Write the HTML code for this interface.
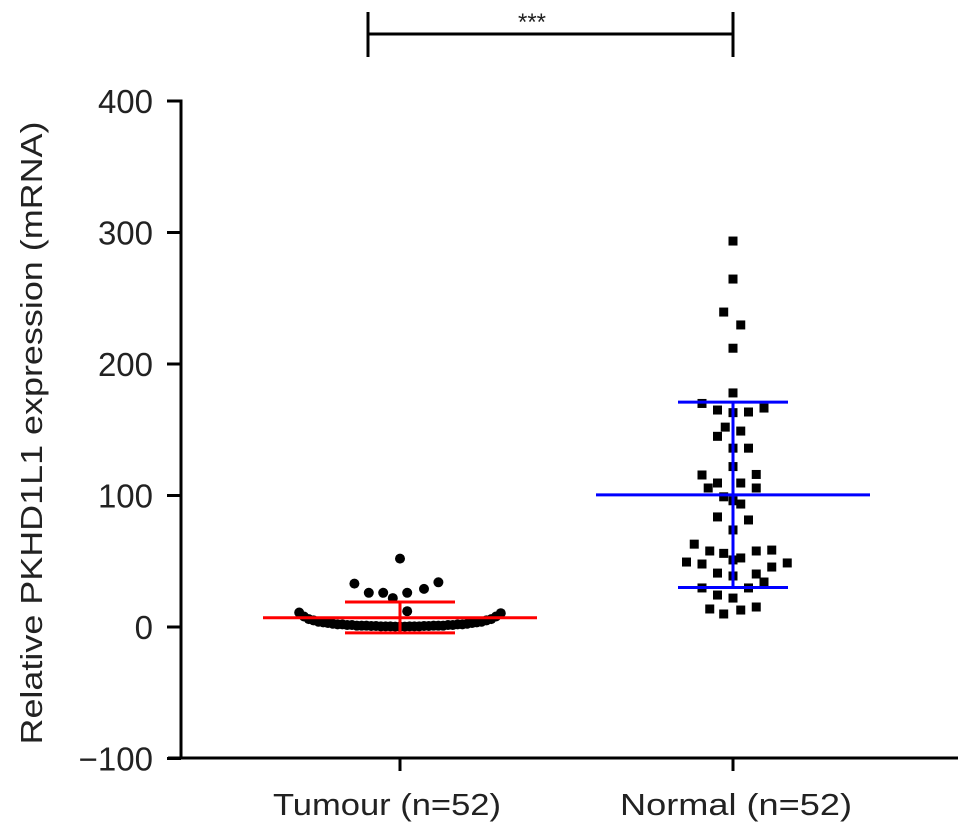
<!DOCTYPE html>
<html><head><meta charset="utf-8"><style>
html,body{margin:0;padding:0;background:#fff;}
svg{display:block;font-family:"Liberation Sans",sans-serif;}
</style></head><body>
<svg id="chart" width="969" height="837" viewBox="0 0 969 837">
<g id="axes"></g><g id="marks"></g>
</svg>
<script>
const yTicks = [-100, 0, 100, 200, 300, 400];
const categories = ["Tumour (n=52)", "Normal (n=52)"];
const tumourOutliers = [52, 33, 26, 26, 26, 29, 34, 22, 12];
const tumourOutlierSlot = [0, -9.5, -6.5, -3.5, 1.5, 5, 8, -1.5, 1.5];
const tumourBand = [11,8,6,5,4,3.5,3,2.5,2,2,1.5,1.5,1,1,1,0.8,0.8,0.5,0.5,0.5,0.3,0.3,0.3,0.5,0.5,0.5,0.8,0.8,1,1,1,1.5,1.5,2,2,2.5,3,3.5,4,5,6,8,10.5];
const normalValues = [293.5,264.6,239.5,229.7,212,178,170,165,163.5,166.5,163,152,149,145,136,136,122,115.6,116,109.5,105.7,109.5,105.7,99,93.5,83.7,81.4,73.8,63,57.8,56,57.8,58.5,49.4,47.9,52.5,45.6,48.7,41,38.8,40.3,34.2,29.7,29.7,24.3,22,13.7,9.9,12.9,15.2,96,51];
const normalSlot = [0,0,-0.6,0.5,0,0,-2,-1,1,2,0,-0.5,0.5,-1,0,1,0,-2,1.5,-1,-1.6,0.5,1.5,-0.6,0.5,-1,1,0,-2.5,-1.5,-0.6,1.5,2.5,-3,-2,0.5,2.5,3.5,-1,0,1.5,2,-2,1,-1,0,-1.5,-0.6,0.5,1.5,0,0];
const tumourStats = {mean: 7, upper: 19, lower: -4.5};
const normalStats = {mean: 100.5, upper: 171, lower: 30};

const NS = "http://www.w3.org/2000/svg";
const y = v => 627 - v * 1.315;
const xCat = i => [400, 733][i];
function el(tag, attrs, parent, text){
  const e = document.createElementNS(NS, tag);
  for (const k in attrs) e.setAttribute(k, attrs[k]);
  if (text !== undefined) e.textContent = text;
  parent.appendChild(e); return e;
}
const axes = document.getElementById('axes');
const marks = document.getElementById('marks');

let a = el('line',{x1:181,y1:y(400)-1.5,x2:181,y2:759,stroke:'#000','stroke-width':3},axes);
 
a = el('line',{x1:168,y1:758,x2:958,y2:758,stroke:'#000','stroke-width':3},axes);
 
yTicks.forEach(t=>{
  const tk = el('line',{x1:167,y1:y(t),x2:181,y2:y(t),stroke:'#000','stroke-width':3},axes);
   
  const s = (t<0?'\u2212'+(-t):String(t));
  const lb = el('text',{x:153,y:y(t)+12,'text-anchor':'end','font-size':33,fill:'#222'},axes,s);
   
});
categories.forEach((c,i)=>{
  const tk = el('line',{x1:xCat(i),y1:758,x2:xCat(i),y2:771,stroke:'#000','stroke-width':3},axes);
   
  const lb = el('text',{x:xCat(i)+(i===0?-13:3),y:815,'text-anchor':'middle','font-size':31,fill:'#222',textLength:(i===0?228:232),lengthAdjust:'spacingAndGlyphs'},axes,c);
   
});
const yt = el('text',{x:0,y:0,transform:'translate(42,433) rotate(-90)','text-anchor':'middle','font-size':31,fill:'#222',textLength:623,lengthAdjust:'spacingAndGlyphs'},axes,'Relative PKHD1L1 expression (mRNA)');
 

// significance bracket
const br = el('path',{d:'M368,12 V57 M368,34 H733 M733,12 V57',stroke:'#000','stroke-width':3,fill:'none'},axes);
 
const st = el('text',{x:532,y:30,'text-anchor':'middle','font-size':24,fill:'#222'},axes,'***');
 

// tumour points
const step = 4.8;
tumourBand.forEach((v,i)=>{
  const c = el('circle',{cx:xCat(0)+(i-(tumourBand.length-1)/2)*step,cy:y(v),r:5,fill:'#000'},marks);
   
});
tumourOutliers.forEach((v,i)=>{
  const c = el('circle',{cx:xCat(0)+tumourOutlierSlot[i]*step,cy:y(v),r:5,fill:'#000'},marks);
   
});
// normal points
normalValues.forEach((v,i)=>{
  const r = el('rect',{x:xCat(1)+normalSlot[i]*15.5-4.5,y:y(v)-4.5,width:9,height:9,fill:'#000'},marks);
   
});
function errBar(i,s,color,half,cap,name){
  const cx = xCat(i);
  const g = el('g',{stroke:color,'stroke-width':3},marks);
   
  el('line',{x1:cx-half,y1:y(s.mean),x2:cx+half,y2:y(s.mean)},g);
  el('line',{x1:cx,y1:y(s.upper),x2:cx,y2:y(s.lower)},g);
  el('line',{x1:cx-cap,y1:y(s.upper),x2:cx+cap,y2:y(s.upper)},g);
  el('line',{x1:cx-cap,y1:y(s.lower),x2:cx+cap,y2:y(s.lower)},g);
}
errBar(0,tumourStats,'#ff0000',137,55,'tumour-mean-sd');
errBar(1,normalStats,'#0000ff',137,55,'normal-mean-sd');
</script>
</body></html>
